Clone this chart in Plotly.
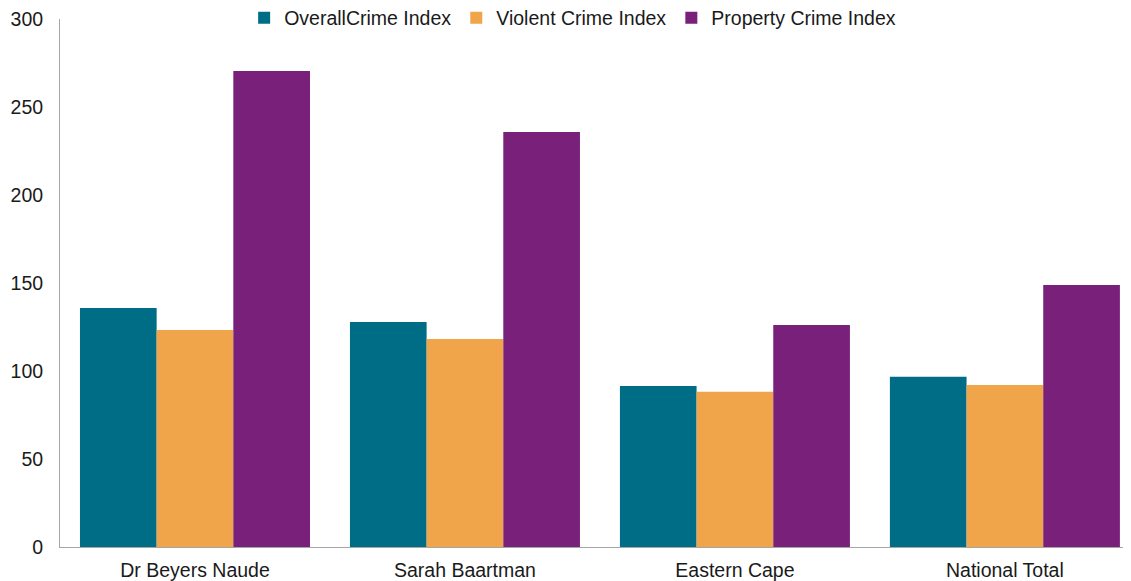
import plotly.graph_objects as go

categories = ["Dr Beyers Naude", "Sarah Baartman", "Eastern Cape", "National Total"]
overall = [135.8, 127.8, 91.5, 96.8]
violent = [123.3, 118.2, 88.2, 92.0]
property_ = [270.5, 235.8, 126.1, 148.9]
series_names = ["OverallCrime Index", "Violent Crime Index", "Property Crime Index"]
colors = ["#006D86", "#F0A54A", "#79207B"]
y_ticks = [0, 50, 100, 150, 200, 250, 300]

fig = go.Figure()
for name, vals, c in zip(series_names, [overall, violent, property_], colors):
    fig.add_trace(go.Bar(x=categories, y=vals, name=name, marker_color=c,
                         marker_line_width=0))

H, B, T = 581, 42, 11
PH = H - B
fig.update_layout(
    width=1131, height=H,
    margin=dict(l=52, r=11, t=0, b=B, autoexpand=False),
    paper_bgcolor="white", plot_bgcolor="white",
    barmode="group", bargap=0.148, bargroupgap=0,
    font=dict(family="Liberation Sans, Arial, sans-serif", size=19.5, color="#1a1a1a"),
    legend=dict(orientation="h", x=0.48, xanchor="center",
                y=(PH - 10) / PH, yanchor="middle",
                font=dict(size=19.5), itemwidth=30, bgcolor="rgba(0,0,0,0)",
                traceorder="normal", tracegroupgap=0),
    showlegend=True,
)
fig.update_xaxes(range=[-0.5, 3.456], showline=True, linecolor="#A6A6A6", linewidth=1,
                 ticks="", showgrid=False, tickfont=dict(size=19.5), automargin=False,
                 ticklabelstandoff=6)
fig.update_yaxes(range=[0, 300], tickvals=y_ticks, showline=True, linecolor="#A6A6A6",
                 linewidth=1, ticks="", showgrid=False, zeroline=False,
                 domain=[0, (PH - T) / PH], ticklabeloverflow="allow",
                 tickfont=dict(size=19.5), ticklabelstandoff=12, automargin=False)

fig.write_html("out.html")
